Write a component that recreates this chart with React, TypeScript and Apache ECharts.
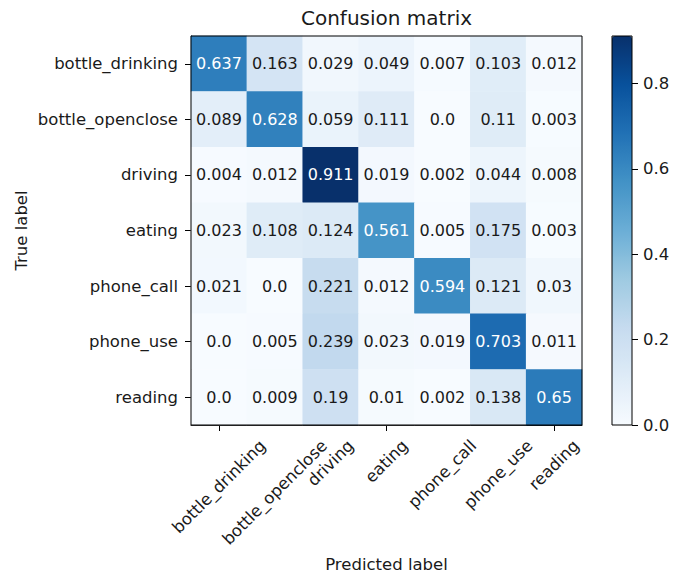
import React, { useEffect, useRef } from 'react';
import * as echarts from 'echarts';

const categories = ['bottle_drinking', 'bottle_openclose', 'driving', 'eating', 'phone_call', 'phone_use', 'reading'];

const rowBottleDrinking = [0.637, 0.163, 0.029, 0.049, 0.007, 0.103, 0.012];
const rowBottleOpenclose = [0.089, 0.628, 0.059, 0.111, 0.0, 0.11, 0.003];
const rowDriving = [0.004, 0.012, 0.911, 0.019, 0.002, 0.044, 0.008];
const rowEating = [0.023, 0.108, 0.124, 0.561, 0.005, 0.175, 0.003];
const rowPhoneCall = [0.021, 0.0, 0.221, 0.012, 0.594, 0.121, 0.03];
const rowPhoneUse = [0.0, 0.005, 0.239, 0.023, 0.019, 0.703, 0.011];
const rowReading = [0.0, 0.009, 0.19, 0.01, 0.002, 0.138, 0.65];

const matrixRows = [rowBottleDrinking, rowBottleOpenclose, rowDriving, rowEating, rowPhoneCall, rowPhoneUse, rowReading];

const colorbarTicks = [0, 0.2, 0.4, 0.6, 0.8];

const BLUES = ['#f7fbff', '#deebf7', '#c6dbef', '#9ecae1', '#6baed6', '#4292c6', '#2171b5', '#08519c', '#08306b'];

const FONT = '"DejaVu Sans", sans-serif';
const TXT = '#1a1a1a';
const TICK_FS = 16.5;

export default function App() {
  const ref = useRef<HTMLDivElement>(null);
  useEffect(() => {
    const chart = echarts.init(ref.current!, null, { renderer: 'svg' });
    const vmax = Math.max(...matrixRows.flat());
    const thresh = vmax / 2;
    const fmt = (v: number) => (Number.isInteger(v) ? v.toFixed(1) : String(v));
    const data: any[] = [];
    matrixRows.forEach((row, i) =>
      row.forEach((v, j) =>
        data.push({ value: [j, i, v], label: { color: v > thresh ? '#ffffff' : TXT } })
      )
    );
    const grid = { left: 191, top: 36, width: 391, height: 389 };
    const cb = { left: 612, top: 36, width: 20, height: 389 };

    chart.setOption({
      animation: false,
      textStyle: { fontFamily: FONT },
      grid: [
        { ...grid, show: false },
        { ...cb, show: true, borderColor: '#000', borderWidth: 1, backgroundColor: 'transparent', z: 10 },
      ],
      xAxis: [
        {
          type: 'category',
          gridIndex: 0,
          data: categories,
          axisLine: { show: true, lineStyle: { color: '#000', width: 1 } },
          axisTick: { show: true, alignWithLabel: true, length: 6, lineStyle: { color: '#000' } },
          axisLabel: { show: false },
          splitLine: { show: false },
        },
        { type: 'category', gridIndex: 1, data: ['c'], show: false },
      ],
      yAxis: [
        {
          type: 'category',
          gridIndex: 0,
          inverse: true,
          data: categories,
          axisLine: { show: true, lineStyle: { color: '#000', width: 1 } },
          axisTick: { show: true, alignWithLabel: true, length: 6, lineStyle: { color: '#000' } },
          axisLabel: { fontSize: TICK_FS, color: TXT, margin: 13, fontFamily: FONT },
          splitLine: { show: false },
        },
        {
          type: 'value',
          gridIndex: 1,
          position: 'right',
          min: 0,
          max: vmax,
          axisLine: { show: false },
          axisTick: { show: true, length: 6, lineStyle: { color: '#000' }, customValues: colorbarTicks },
          axisLabel: {
            fontSize: TICK_FS,
            color: TXT,
            margin: 11,
            fontFamily: FONT,
            customValues: colorbarTicks,
            formatter: (v: number) => v.toFixed(1),
          },
          splitLine: { show: false },
        },
      ],
      visualMap: {
        type: 'continuous',
        min: 0,
        max: vmax,
        seriesIndex: 0,
        show: true,
        calculable: false,
        left: cb.left,
        top: cb.top,
        itemWidth: cb.width,
        itemHeight: cb.height,
        padding: 0,
        inRange: { color: BLUES },
        hoverLink: false,
      },
      series: [
        {
          type: 'heatmap',
          xAxisIndex: 0,
          yAxisIndex: 0,
          data,
          label: {
            show: true,
            fontSize: 16,
            fontFamily: FONT,
            formatter: (p: any) => fmt(p.value[2]),
          },
          itemStyle: { borderWidth: 0 },
          emphasis: { disabled: true },
        },
      ],
    });

    const ctx = document.createElement('canvas').getContext('2d')!;
    const font = `${TICK_FS}px "DejaVu Sans"`;
    ctx.font = font;
    const lineH = TICK_FS * 1.17;
    const graphics: any[] = [];
    categories.forEach((c, j) => {
      const p = chart.convertToPixel({ seriesIndex: 0 }, [j, 0]) as number[];
      const w = ctx.measureText(c).width;
      const half = (w + lineH) / Math.SQRT2 / 2;
      graphics.push({
        type: 'text',
        x: p[0],
        y: grid.top + grid.height + 11 + half,
        rotation: Math.PI / 4,
        style: {
          text: c,
          font,
          fill: TXT,
          textAlign: 'center',
          textVerticalAlign: 'middle',
        },
      });
    });
    graphics.push({
      type: 'rect',
      shape: { x: grid.left, y: grid.top, width: grid.width, height: grid.height },
      style: { fill: 'none', stroke: '#000', lineWidth: 1 },
      z: 100,
    });
    graphics.push({
      type: 'text',
      x: grid.left + grid.width / 2,
      y: 18,
      style: { text: 'Confusion matrix', font: '20px "DejaVu Sans"', fill: TXT, textAlign: 'center', textVerticalAlign: 'middle' },
    });
    graphics.push({
      type: 'text',
      x: grid.left + grid.width / 2,
      y: 564,
      style: { text: 'Predicted label', font: font, fill: TXT, textAlign: 'center', textVerticalAlign: 'middle' },
    });
    graphics.push({
      type: 'text',
      x: 21,
      y: grid.top + grid.height / 2,
      rotation: Math.PI / 2,
      style: { text: 'True label', font: font, fill: TXT, textAlign: 'center', textVerticalAlign: 'middle' },
    });
    chart.setOption({ graphic: graphics });

    return () => chart.dispose();
  }, []);
  return <div ref={ref} style={{ position: 'fixed', left: 0, top: 0, width: 683, height: 574, background: '#fff' }} />;
}
